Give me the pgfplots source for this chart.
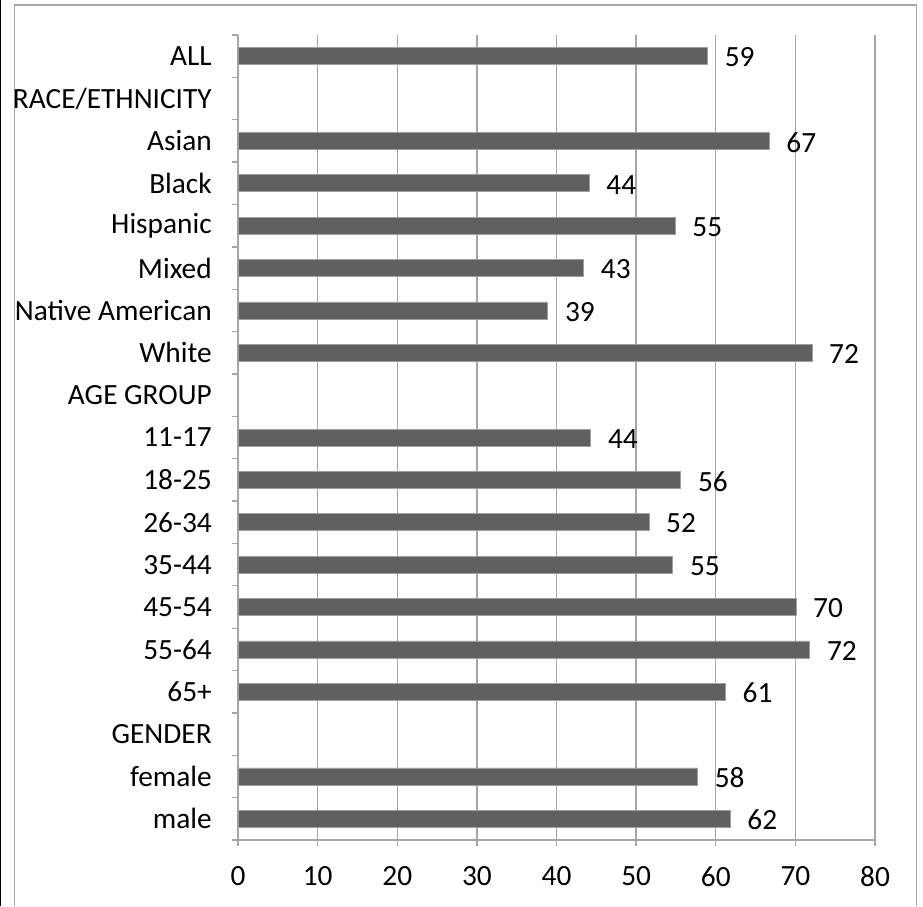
\documentclass[border=0pt]{standalone}
\usepackage{pgfplots}
\pgfplotsset{compat=1.18}
\usepackage{fontspec}
\setmainfont{Carlito}
\definecolor{barfill}{HTML}{606060}
\definecolor{gridgray}{HTML}{A6A6A6}
\begin{document}
\begin{tikzpicture}
\path[use as bounding box] (-178.5pt,-49.5pt) rectangle (513.75pt,630pt);
\draw[black, line width=0.9pt] (-178.1pt,-49.5pt) -- (-178.1pt,630pt);
\draw[gridgray, line width=1.1pt] (-167.6pt,-49.5pt) -- (-167.6pt,626.25pt) -- (509pt,626.25pt) -- (509pt,-49.5pt);
\begin{axis}[
  at={(0,0)}, anchor=south west,
  scale only axis, width=477.75pt, height=603.75pt,
  xbar, bar width=12.75pt,
  xmin=0, xmax=80, xtick={0,10,...,80},
  ymin=-0.5, ymax=18.5, y dir=reverse,
  ytick={0,...,18},
  yticklabels={ALL, RACE/ETHNICITY, Asian, Black, Hispanic, Mixed, Native American, White, AGE GROUP, 11-17, 18-25, 26-34, 35-44, 45-54, 55-64, 65+, GENDER, female, male},
  minor ytick={-0.5,0.5,...,18.5},
  major tick length=4.5pt, minor tick length=4.5pt,
  tick align=outside,
  major y tick style={draw=none},
  tick style={gridgray, line width=1pt},
  axis x line*=bottom, axis y line*=left,
  axis line style={gridgray, line width=1.1pt, -},
  xmajorgrids, major grid style={gridgray, line width=1.1pt},
  ticklabel style={font=\fontsize{22pt}{26pt}\selectfont},
  /pgf/number format/assume math mode=true,
  yticklabel style={anchor=east, inner sep=0pt, xshift=-15pt},
  xticklabel style={yshift=-12pt},
  nodes near coords,
  nodes near coords style={anchor=west, inner sep=0pt, xshift=12.75pt, yshift=-1pt, font=\fontsize{22pt}{26pt}\selectfont, /pgf/number format/.cd, fixed, precision=0},
  clip=false,
]
\addplot[fill=barfill, draw=gray!75, line width=0.5pt] coordinates {
(58.96,0) (66.7,2) (44.1,3) (54.9,4) (43.4,5) (38.9,6) (72.07,7)
(44.3,9) (55.6,10) (51.6,11) (54.6,12) (70.06,13) (71.8,14) (61.2,15)
(57.7,17) (61.8,18)
};
\end{axis}
\end{tikzpicture}
\end{document}
